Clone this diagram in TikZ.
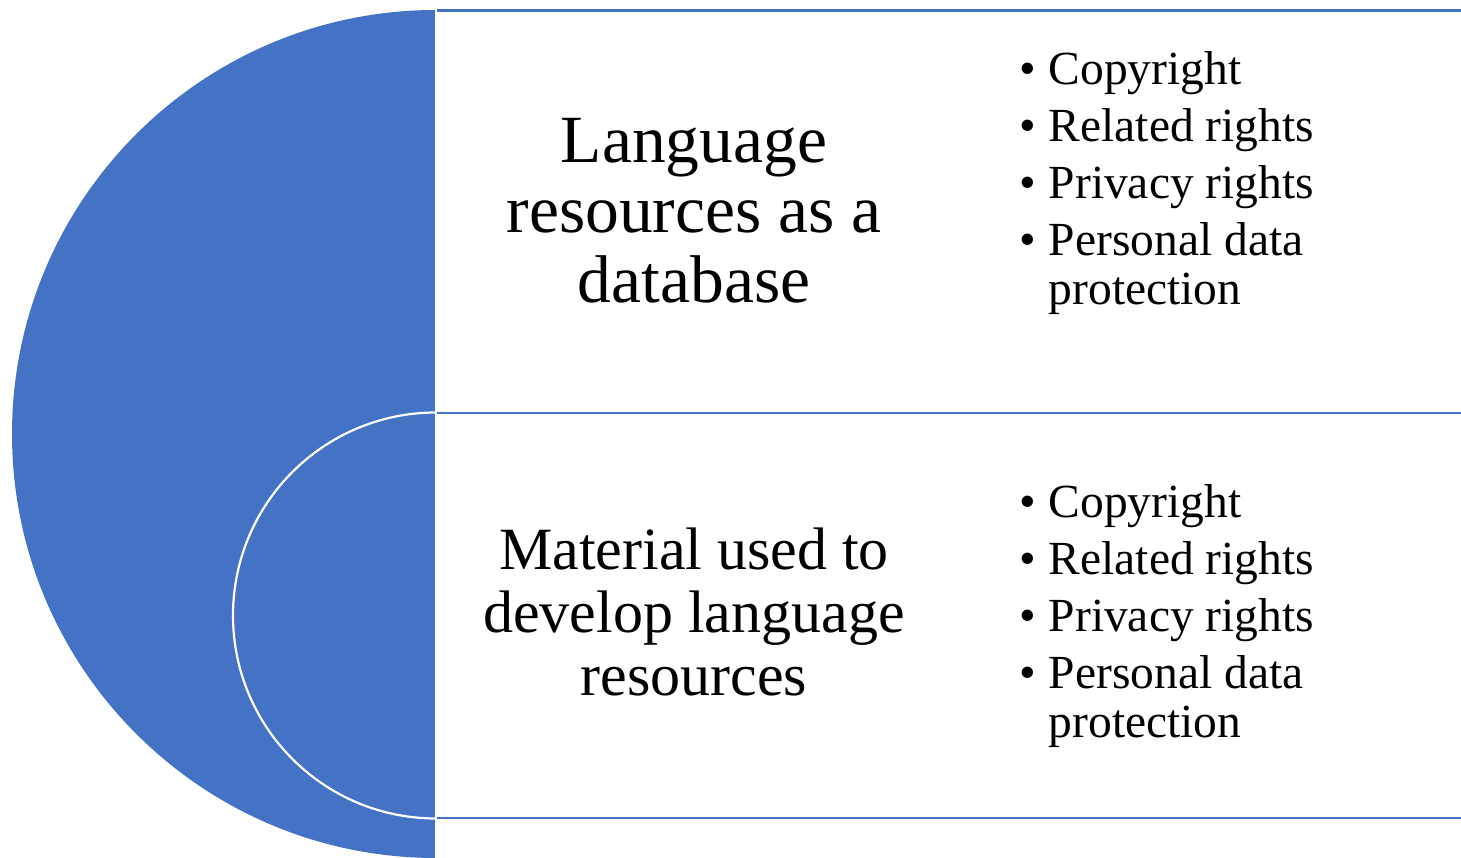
\documentclass[tikz,border=0pt]{standalone}
\usepackage{fontspec}
\setmainfont{Liberation Serif}
\definecolor{sblue}{RGB}{68,114,196}
\begin{document}
\begin{tikzpicture}[x=1pt,y=1pt,
  rule/.style={draw=sblue,line width=2.8pt},
  headtext/.style={anchor=base,inner sep=0pt},
  listtext/.style={anchor=base west,inner sep=0pt,font={\fontsize{47.5}{49}\selectfont}}]
\useasboundingbox (0,0) rectangle (1461,858);
% outer half disc
\fill[sblue] (436,848) arc[start angle=90,end angle=270,radius=424pt] -- cycle;
\draw[white,line width=2pt] (436,848) -- (436,0);
% inner half circle outline
\draw[white,line width=2.2pt] (436,445.5) arc[start angle=90,end angle=270,radius=203pt];
% horizontal rules of the two boxes
\coordinate (r1a) at (437,847.3);
\coordinate (r1b) at (1461,847.3);
\coordinate (r2a) at (437,445);
\coordinate (r2b) at (1461,445);
\coordinate (r3a) at (437,40);
\coordinate (r3b) at (1461,40);
\draw[rule] (r1a) -- (r1b);
\draw[rule] (r2a) -- (r2b);
\draw[rule] (r3a) -- (r3b);
% headings
\node[headtext] (h1) at (694,695) {\fontsize{67.5}{70}\selectfont\begin{tabular}[t]{@{}c@{}}Language\\resources as a\\database\end{tabular}};
\node[headtext] (h2) at (694,288) {\fontsize{60}{63}\selectfont\begin{tabular}[t]{@{}c@{}}Material used to\\develop language\\resources\end{tabular}};
% lists
\node[listtext] (l1) at (1019,773) {\begin{tabular}[t]{@{}l@{\hspace{13pt}}l@{}}• & Copyright\\[8pt] • & Related rights\\[8pt] • & Privacy rights\\[8pt] • & Personal data\\ & protection\end{tabular}};
\node[listtext] (l2) at (1019,340) {\begin{tabular}[t]{@{}l@{\hspace{13pt}}l@{}}• & Copyright\\[8pt] • & Related rights\\[8pt] • & Privacy rights\\[8pt] • & Personal data\\ & protection\end{tabular}};
\end{tikzpicture}
\end{document}
